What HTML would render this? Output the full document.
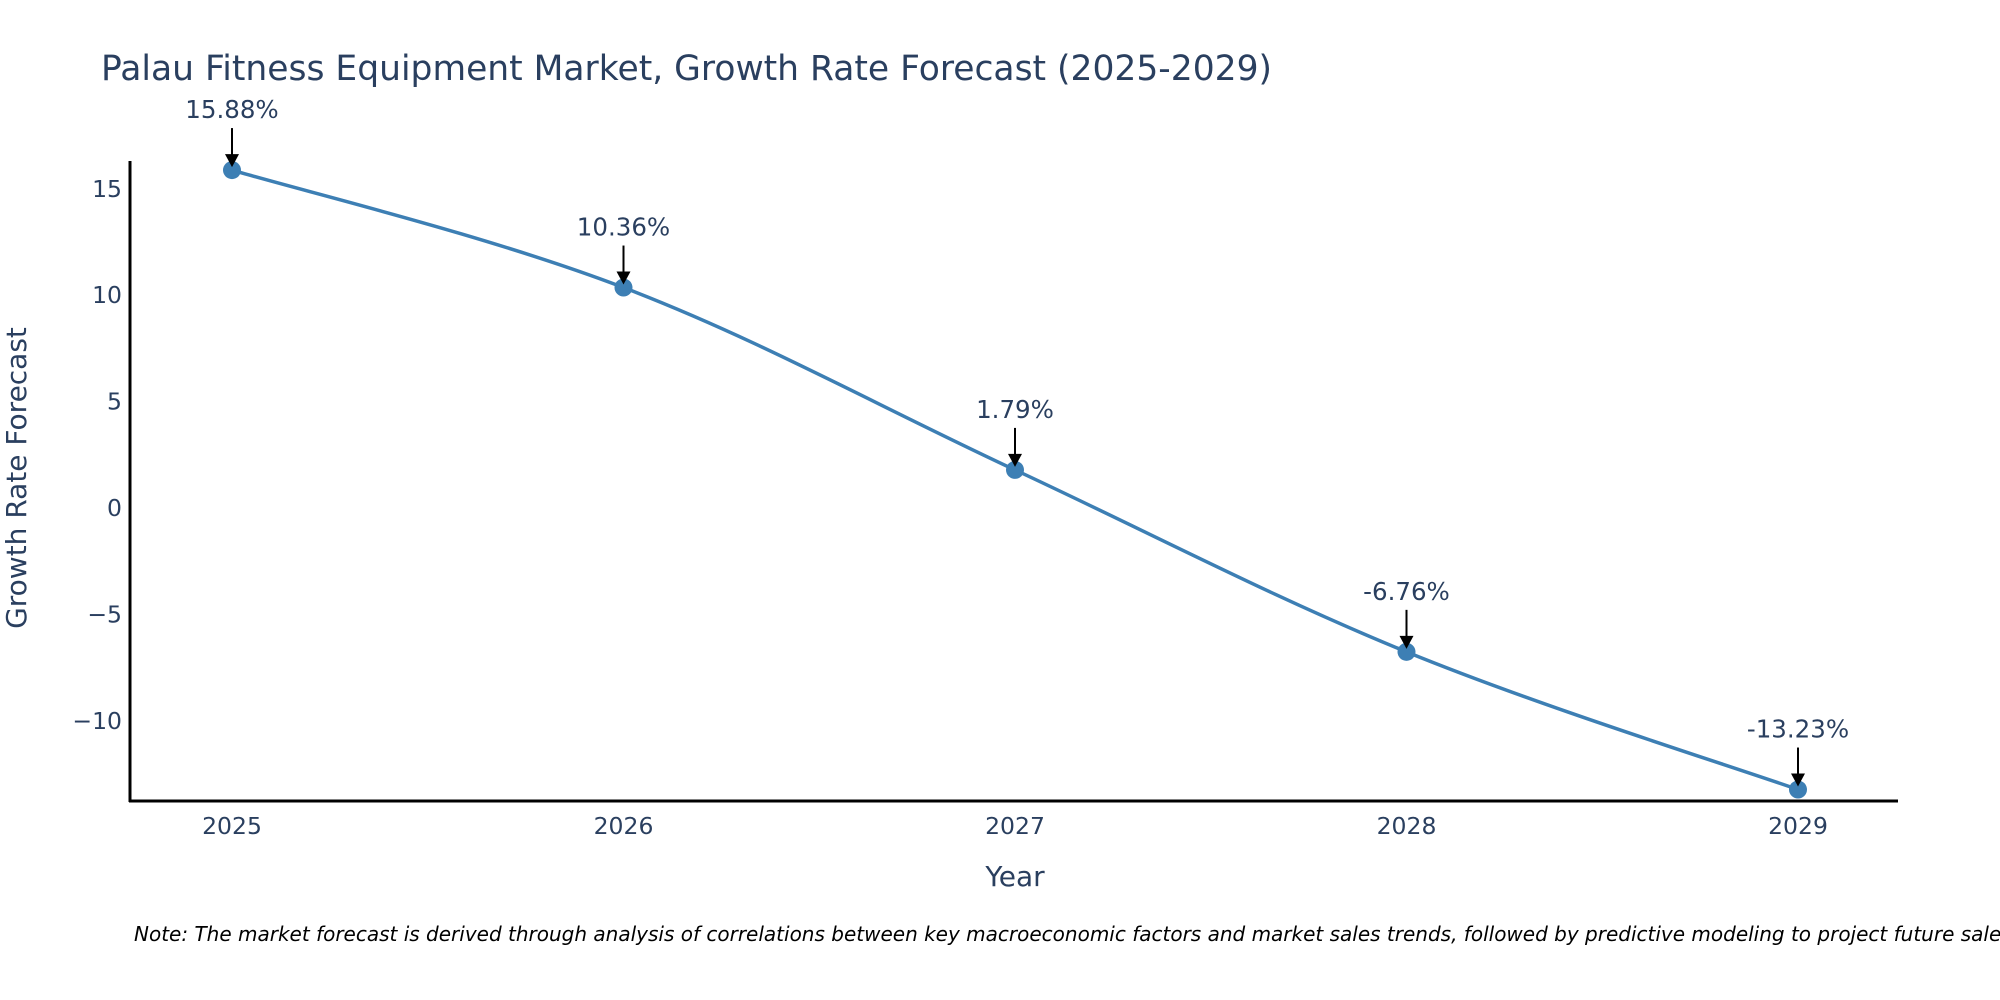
<!DOCTYPE html>
<html><head><meta charset="utf-8"><style>
body{margin:0;background:#fff}
svg{display:block;font-family:"DejaVu Sans","Liberation Sans",sans-serif}
</style></head><body>
<svg width="2000" height="1000" viewBox="0 0 2000 1000">
<text x="101" y="80" font-size="34.5" fill="#2a3f5f">Palau Fitness Equipment Market, Growth Rate Forecast (2025-2029)</text>
<g id="yticks"></g>
<g id="xticks"></g>
<line x1="130" y1="161" x2="130" y2="802" stroke="#000" stroke-width="3"/>
<line x1="129" y1="801" x2="1898" y2="801" stroke="#000" stroke-width="3"/>
<path id="line" fill="none" stroke="#3d7fb4" stroke-width="3.5"/>
<g id="marks"></g>
<g id="ann"></g>
<text x="26" y="478" font-size="28" fill="#2a3f5f" text-anchor="middle" transform="rotate(-90 26 478)">Growth Rate Forecast</text>
<text x="1015" y="886" font-size="28" fill="#2a3f5f" text-anchor="middle">Year</text>
<text x="134" y="941" font-size="20" font-style="italic" fill="#000">Note: The market forecast is derived through analysis of correlations between key macroeconomic factors and market sales trends, followed by predictive modeling to project future sales.</text>
</svg>
<script>
const years=["2025","2026","2027","2028","2029"];
const values=[15.88,10.36,1.79,-6.76,-13.23];
const labels=["15.88%","10.36%","1.79%","-6.76%","-13.23%"];
const yTicks=[15,10,5,0,-5,-10];
const NS="http://www.w3.org/2000/svg";
function xs(i){return 232+i*391.5;}
function ys(v){return 508-v*21.28;}
function mk(tag,attrs,parent,txt){const e=document.createElementNS(NS,tag);for(const k in attrs)e.setAttribute(k,attrs[k]);if(txt!==undefined)e.textContent=txt;parent.appendChild(e);return e;}
const yt=document.getElementById('yticks');
yTicks.forEach(t=>{const e=mk('text',{x:122,y:ys(t)+8,'font-size':23.5,fill:'#2a3f5f','text-anchor':'end'},yt,t<0?'\u2212'+(-t):String(t));

});
const xt=document.getElementById('xticks');
years.forEach((y,i)=>{const e=mk('text',{x:xs(i),y:834,'font-size':23.5,fill:'#2a3f5f','text-anchor':'middle'},xt,y);

});
const P=values.map((v,i)=>[xs(i),ys(v)]);
let d='M'+P[0][0]+','+P[0][1];
for(let i=0;i<P.length-1;i++){const p0=P[Math.max(0,i-1)],p1=P[i],p2=P[i+1],p3=P[Math.min(P.length-1,i+2)];const t=0.35;
const c1=[p1[0]+(p2[0]-p0[0])*t/2,p1[1]+(p2[1]-p0[1])*t/2];const c2=[p2[0]-(p3[0]-p1[0])*t/2,p2[1]-(p3[1]-p1[1])*t/2];
d+=' C'+c1[0]+','+c1[1]+' '+c2[0]+','+c2[1]+' '+p2[0]+','+p2[1];}
document.getElementById('line').setAttribute('d',d);
const mg=document.getElementById('marks'),ag=document.getElementById('ann');
P.forEach((p,i)=>{const c=mk('circle',{cx:p[0],cy:p[1],r:9,fill:'#3d7fb4'},mg);


const l=mk('line',{x1:p[0],y1:p[1]-42,x2:p[0],y2:p[1]-14,stroke:'#000','stroke-width':2},ag);


const h=mk('polygon',{points:(p[0]-7)+','+(p[1]-16)+' '+(p[0]+7)+','+(p[1]-16)+' '+p[0]+','+(p[1]-3),fill:'#000'},ag);


const t=mk('text',{x:p[0],y:p[1]-52,'font-size':24.5,fill:'#2a3f5f','text-anchor':'middle'},ag,labels[i]);

});
</script>
</body></html>
